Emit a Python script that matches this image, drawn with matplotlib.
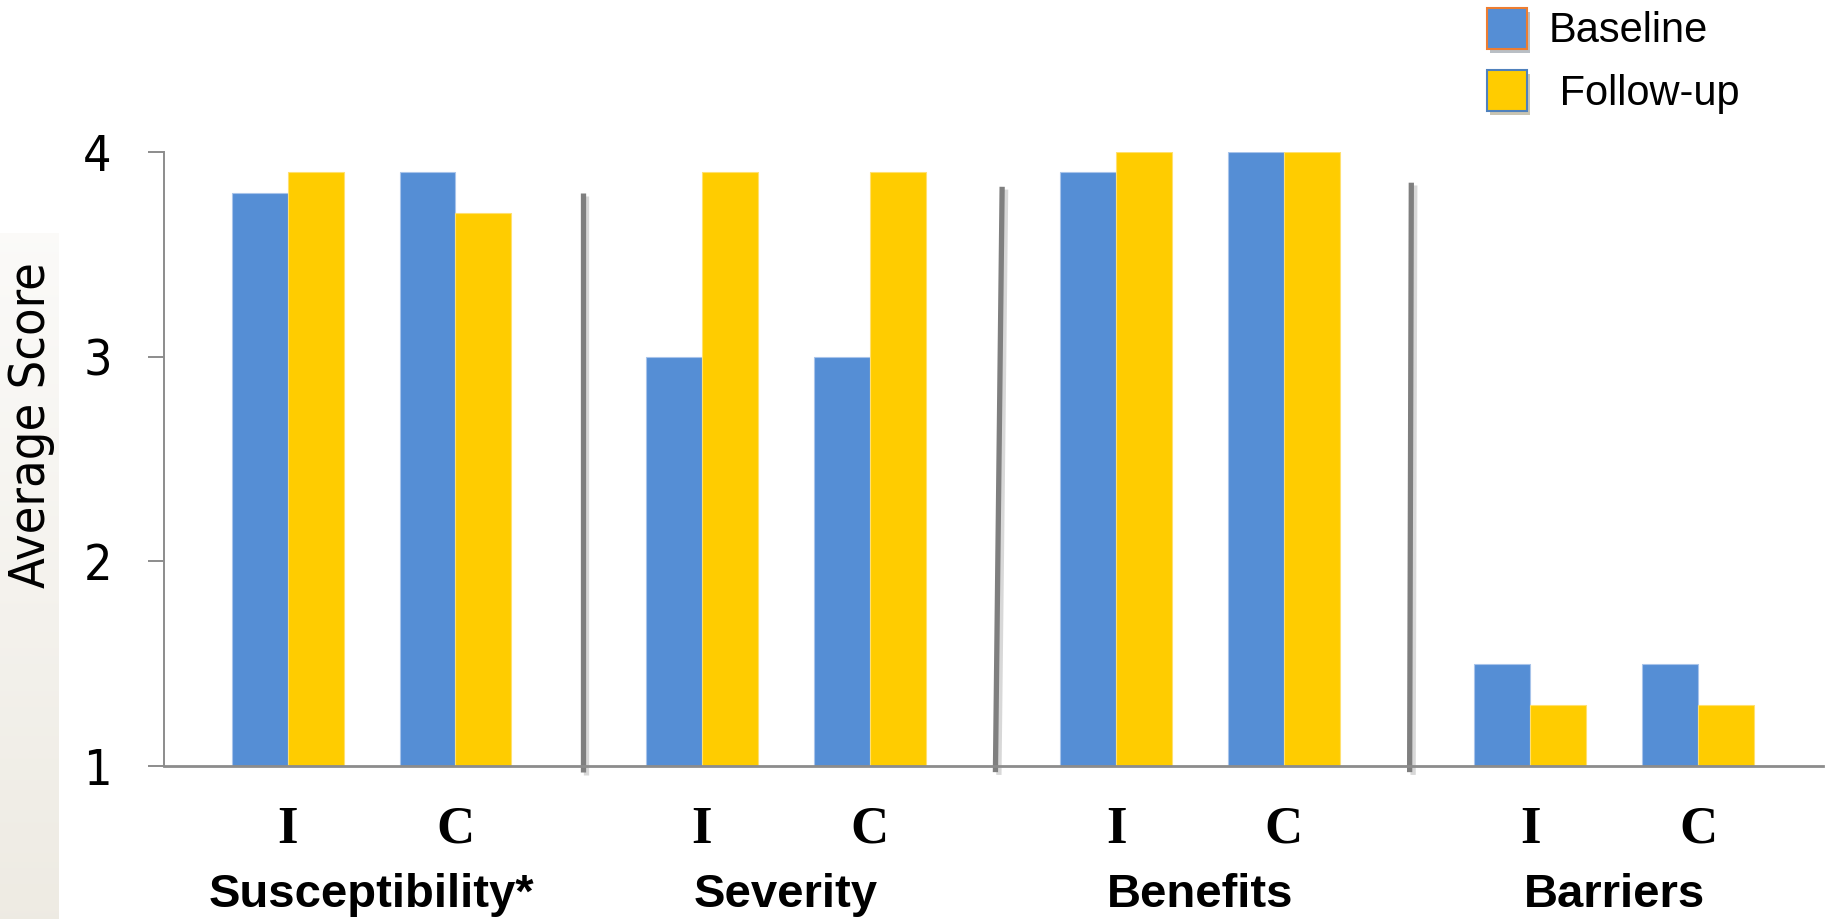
import matplotlib
matplotlib.use("Agg")
import matplotlib.pyplot as plt
import matplotlib.patheffects as pe
from matplotlib.patches import Patch
import numpy as np

# mean scores, ordered I then C within each construct
groups = ["Susceptibility*", "Severity", "Benefits", "Barriers"]
arms = ["I", "C"]
baseline = [3.8, 3.9, 3.0, 3.0, 3.9, 4.0, 1.5, 1.5]
followup = [3.9, 3.7, 3.9, 3.9, 4.0, 4.0, 1.3, 1.3]
yticks = [1, 2, 3, 4]
series = ["Baseline", " Follow-up"]

# hand-drawn separators between constructs (x top, x bottom, y top)
div_x_top = [1.76, 4.26, 6.70]
div_x_bot = [1.76, 4.22, 6.69]
div_y_top = [3.80, 3.83, 3.85]
div_y_bot = 0.97

blue = "#558ED5"
yellow = "#FFCC00"
grey = "#8C8C8C"

step = 2.47
w = 1 / 3
xpos = np.array([g * step + a for g in range(len(groups)) for a in range(len(arms))])

fig = plt.figure(figsize=(18.26, 9.19), dpi=100)

# faint beige strip down the left edge
strip = fig.add_axes([0, 0, 58 / 1826, 686 / 919], zorder=-1)
top_c = np.array([0.985, 0.982, 0.975])
bot_c = np.array([0.933, 0.921, 0.890])
t = np.linspace(0, 1, 256)[:, None, None]
strip.imshow(top_c + (bot_c - top_c) * t, aspect="auto")
strip.axis("off")

ax = fig.add_axes([164 / 1826, 153 / 919, 1659 / 1826, 614 / 919])
ax.bar(xpos - w / 2, baseline, w, bottom=0, color=blue, edgecolor="#A8C4EA",
       linewidth=0.8, zorder=2)
ax.bar(xpos + w / 2, followup, w, bottom=0, color=yellow, edgecolor="#FFE070",
       linewidth=0.8, zorder=2)

shadow = [pe.SimpleLineShadow(offset=(2.5, -2), shadow_color="#909090", alpha=0.35),
          pe.Normal()]
for xt, xb, yt in zip(div_x_top, div_x_bot, div_y_top):
    ax.plot([xb, xt], [div_y_bot, yt], color="#7F7F7F", lw=3.8,
            solid_capstyle="butt", clip_on=False, zorder=3, path_effects=shadow)

ax.set_xlim(-0.738, 9.155)
ax.set_ylim(1, 4)
ax.set_yticks(yticks)
ax.set_yticklabels([str(v) for v in yticks], family="DejaVu Sans",
                   stretch="condensed", fontsize=36)
ax.tick_params(axis="y", length=11.5, width=1.4, color=grey, pad=26)
ax.set_xticks([])
for s in ["top", "right"]:
    ax.spines[s].set_visible(False)
ax.spines["left"].set_color(grey)
ax.spines["left"].set_linewidth(1.4)
ax.spines["bottom"].set_color(grey)
ax.spines["bottom"].set_linewidth(2.0)
ax.spines["bottom"].set_zorder(4)

# arm letters under each pair, construct names under each group
trans = ax.get_xaxis_transform()
for x, lab in zip(xpos, arms * len(groups)):
    ax.annotate(lab, (x, 0), xycoords=trans, xytext=(0, -55.4),
                textcoords="offset points", ha="center", va="baseline",
                family="Liberation Serif", weight="bold", fontsize=38)
for g, name in enumerate(groups):
    ax.annotate(name, (g * step + 0.5, 0), xycoords=trans, xytext=(0, -101.3),
                textcoords="offset points", ha="center", va="baseline",
                family="Liberation Sans", weight="bold", fontsize=34)

ylab = fig.text(31 / 1826, 1 - 425 / 919, "Average Score", rotation=90,
                ha="center", va="center", family="DejaVu Sans",
                stretch="condensed", fontsize=40)
# size the label so it spans about 325 px
renderer = fig.canvas.get_renderer()
span = ylab.get_window_extent(renderer).height
ylab.set_fontsize(40 * 325 / span)

handles = [Patch(facecolor=blue, edgecolor="#ED7D31", linewidth=1.5),
           Patch(facecolor=yellow, edgecolor="#4F81BD", linewidth=1.5)]
leg = fig.legend(handles, series, loc="upper left",
                 bbox_to_anchor=(1487 / 1826, 1 - 8 / 919), frameon=False,
                 prop={"family": "Liberation Sans", "size": 30},
                 handlelength=0.97, handleheight=1.12, handletextpad=0.5,
                 labelspacing=0.45, borderpad=0, borderaxespad=0)
for h in leg.legend_handles:
    h.set_path_effects([pe.SimplePatchShadow(offset=(2, -3), alpha=0.3), pe.Normal()])

fig.savefig("out.png", dpi=100)
